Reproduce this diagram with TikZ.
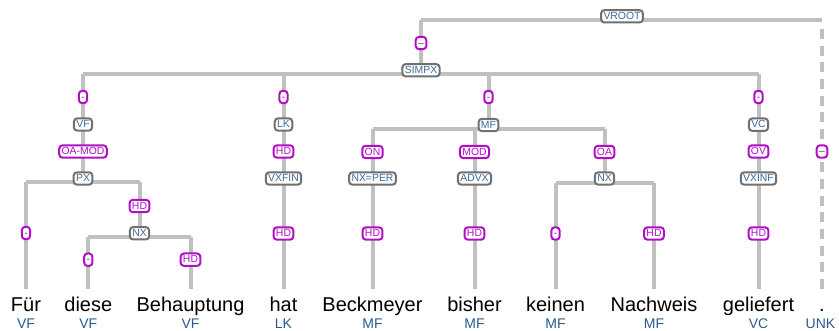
\documentclass[tikz,border=0pt]{standalone}
\usepackage{fontspec}
\setmainfont{Liberation Sans}
\definecolor{tgray}{HTML}{C0C0C0}
\definecolor{catborder}{HTML}{707070}
\definecolor{catblue}{HTML}{3A6B9E}
\definecolor{edgemag}{HTML}{B010C4}
\definecolor{tagblue}{HTML}{2A5A8C}
\tikzset{
  tline/.style={draw=tgray, line width=3pt, line cap=butt},
  tdash/.style={draw=tgray, line width=3pt, dash pattern=on 7.5pt off 5pt},
  catbox/.style={draw=catborder, line width=1.5pt, rounded corners=2.5pt, fill=white, text=catblue,
    font=\fontsize{7.8}{8}\selectfont, inner xsep=1.8pt, inner ysep=1pt, text height=6pt, text depth=1.3pt},
  edgebox/.style={catbox, draw=edgemag, text=edgemag},
  word/.style={font=\fontsize{15}{16}\selectfont, anchor=base, text height=11pt, inner ysep=5.5pt, inner xsep=0pt},
  tag/.style={font=\fontsize{10.5}{11}\selectfont, text=tagblue, anchor=base, inner sep=0pt},
}
\begin{document}
\begin{tikzpicture}[x=0.75pt,y=-0.75pt]
\useasboundingbox (0,0) rectangle (839,331);
% bar levels
\coordinate (bRoot) at (0,20);
\coordinate (bSimpx) at (0,74);
\coordinate (bPX) at (0,182.5);
\coordinate (bNXa) at (0,237.5);
\coordinate (bMF) at (0,129);
\coordinate (bNXb) at (0,183);
\coordinate (dTop) at (0,24);
% words
\node[word] (w1) at (26,311.2) {Für};
\node[word] (w2) at (88.3,311.2) {diese};
\node[word] (w3) at (190.5,311.2) {Behauptung};
\node[word] (w4) at (283.5,311.2) {hat};
\node[word] (w5) at (372.5,311.2) {Beckmeyer};
\node[word] (w6) at (474.5,311.2) {bisher};
\node[word] (w7) at (555.5,311.2) {keinen};
\node[word] (w8) at (654,311.2) {Nachweis};
\node[word] (w9) at (758.5,311.2) {geliefert};
\node[word] (w10) at (822,311.2) {.};
% tags
\node[tag] (t1) at (26,328.3) {VF};
\node[tag] (t2) at (88.3,328.3) {VF};
\node[tag] (t3) at (190.5,328.3) {VF};
\node[tag] (t4) at (283.5,328.3) {LK};
\node[tag] (t5) at (372.5,328.3) {MF};
\node[tag] (t6) at (474.5,328.3) {MF};
\node[tag] (t7) at (555.5,328.3) {MF};
\node[tag] (t8) at (654,328.3) {MF};
\node[tag] (t9) at (758.5,328.3) {VC};
\node[tag] (t10) at (820.5,328.3) {UNK};
% phrase node positions
\coordinate (pvroot) at (622,16.3);
\coordinate (psimpx) at (421,70.3);
\coordinate (pvf) at (83,124.5);
\coordinate (ppx) at (83,178.5);
\coordinate (pnxa) at (139.5,233.3);
\coordinate (plk) at (283.5,124.5);
\coordinate (pvxfin) at (283.5,178.5);
\coordinate (pmf) at (488.5,125);
\coordinate (pnxper) at (372.5,178.5);
\coordinate (padvx) at (474.5,178.5);
\coordinate (pnxb) at (604.5,178.5);
\coordinate (pvc) at (758.5,124.7);
\coordinate (pvxinf) at (758.5,178.5);
% connectors
\draw[tline] (bRoot -| psimpx) -- (bRoot -| w10);
\draw[tline] (psimpx) -- (psimpx |- bRoot);
\draw[tdash] (w10.north) -- (w10 |- dTop);
\draw[tline] (bSimpx -| pvf) -- (bSimpx -| pvc);
\draw[tline] (ppx) -- (pvf) -- (pvf |- bSimpx);
\draw[tline] (plk) -- (plk |- bSimpx);
\draw[tline] (pmf) -- (pmf |- bSimpx);
\draw[tline] (pvc) -- (pvc |- bSimpx);
\draw[tline] (bPX -| w1) -- (bPX -| pnxa);
\draw[tline] (w1.north) -- (w1 |- bPX);
\draw[tline] (pnxa) -- (pnxa |- bPX);
\draw[tline] (bNXa -| w2) -- (bNXa -| w3);
\draw[tline] (w2.north) -- (w2 |- bNXa);
\draw[tline] (w3.north) -- (w3 |- bNXa);
\draw[tline] (w4.north) -- (plk);
\draw[tline] (bMF -| pnxper) -- (bMF -| pnxb);
\draw[tline] (pnxper) -- (pnxper |- bMF);
\draw[tline] (padvx) -- (padvx |- bMF);
\draw[tline] (pnxb) -- (pnxb |- bMF);
\draw[tline] (w5.north) -- (pnxper);
\draw[tline] (w6.north) -- (padvx);
\draw[tline] (bNXb -| w7) -- (bNXb -| w8);
\draw[tline] (w7.north) -- (w7 |- bNXb);
\draw[tline] (w8.north) -- (w8 |- bNXb);
\draw[tline] (w9.north) -- (pvc);
% phrase boxes
\node[catbox] (vroot) at (pvroot) {VROOT};
\node[catbox] (simpx) at (psimpx) {SIMPX};
\node[catbox] (vf) at (pvf) {VF};
\node[catbox] (px) at (ppx) {PX};
\node[catbox] (nxa) at (pnxa) {NX};
\node[catbox] (lk) at (plk) {LK};
\node[catbox] (vxfin) at (pvxfin) {VXFIN};
\node[catbox] (mf) at (pmf) {MF};
\node[catbox] (nxper) at (pnxper) {NX=PER};
\node[catbox] (advx) at (padvx) {ADVX};
\node[catbox] (nxb) at (pnxb) {NX};
\node[catbox] (vc) at (pvc) {VC};
\node[catbox] (vxinf) at (pvxinf) {VXINF};
% edge labels
\node[edgebox] (e1) at (421,43) {--};
\node[edgebox] (e2) at (822,151.5) {--};
\node[edgebox] (e3) at (83,97) {-};
\node[edgebox] (e4) at (283.5,97) {-};
\node[edgebox] (e5) at (488.5,97) {-};
\node[edgebox] (e6) at (758.5,97) {-};
\node[edgebox] (e7) at (83,151.5) {OA-MOD};
\node[edgebox] (e8) at (139.5,206) {HD};
\node[edgebox] (e9) at (26,233) {-};
\node[edgebox] (e10) at (88.3,259.7) {-};
\node[edgebox] (e11) at (190.5,259.7) {HD};
\node[edgebox] (e12) at (283.5,151.5) {HD};
\node[edgebox] (e13) at (283.5,233.5) {HD};
\node[edgebox] (e14) at (372.5,152) {ON};
\node[edgebox] (e15) at (474.5,152) {MOD};
\node[edgebox] (e16) at (604.5,152) {OA};
\node[edgebox] (e17) at (372.5,233.5) {HD};
\node[edgebox] (e18) at (474.5,233.5) {HD};
\node[edgebox] (e19) at (555.5,233.5) {-};
\node[edgebox] (e20) at (654,233.5) {HD};
\node[edgebox] (e21) at (758.5,233.5) {HD};
\node[edgebox] (e22) at (758.5,151.5) {OV};
\end{tikzpicture}
\end{document}
